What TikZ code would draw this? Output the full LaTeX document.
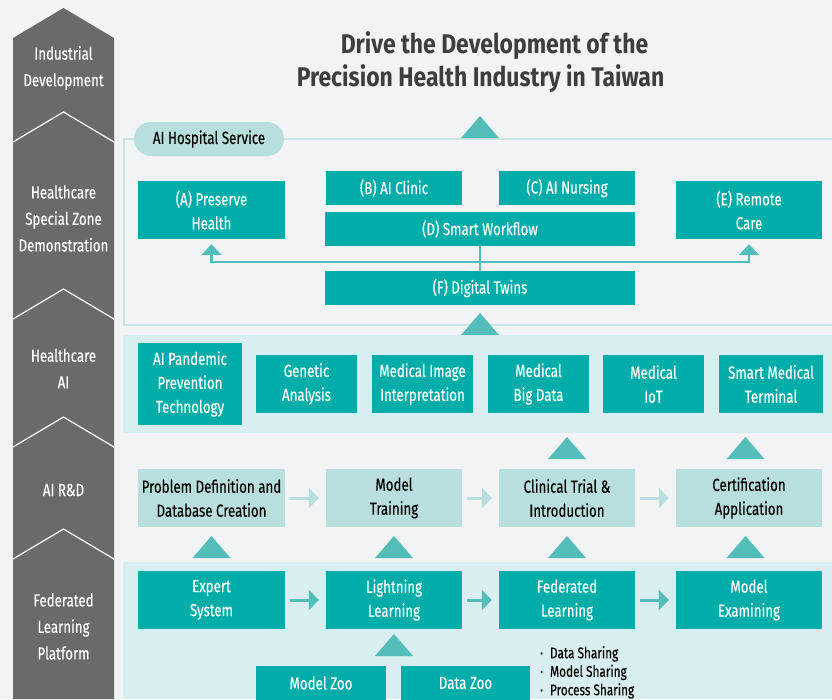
\documentclass[tikz,border=0pt]{standalone}
\usepackage{fontspec}
\setmainfont[FakeStretch=0.76,FakeBold=0.3]{Fira Sans}
\newfontfamily\titlefont[FakeStretch=0.85]{Fira Sans}
\usetikzlibrary{arrows.meta,calc}
\definecolor{teal1}{HTML}{00ADA9}
\definecolor{tealmid}{HTML}{52BDB9}
\definecolor{tealpale}{HTML}{B8DFDE}
\definecolor{bandc}{HTML}{D9EEF0}
\definecolor{bgc}{HTML}{F1F3F5}
\definecolor{colgray}{HTML}{6A6A6A}
\definecolor{framec}{HTML}{CCE5E4}
\definecolor{titlec}{HTML}{3E3E3E}
\newcommand\mytri[2]{\fill[tealmid] (#1-19,#2+22) -- (#1,#2) -- (#1+19,#2+22) -- cycle;}
\begin{document}
\begin{tikzpicture}[x=1pt,y=-1pt,
  tbox/.style={rectangle,fill=teal1,text=white,align=center,inner sep=0pt,font=\fontsize{17.5}{24}\selectfont},
  pbox/.style={rectangle,fill=tealpale,text=black,align=center,inner sep=0pt,font=\fontsize{17.5}{24}\selectfont},
  collabel/.style={text=white,align=center,font=\fontsize{17.5}{26.5}\selectfont},
  titletext/.style={text=titlec,font=\titlefont\fontsize{27}{33}\selectfont\bfseries},
  conn/.style={draw=tealmid,line width=2.5pt},
  harrow/.style={line width=3pt,-{Triangle[width=20pt,length=10pt]},shorten <=5pt,shorten >=7pt},
]
\useasboundingbox (0,0) rectangle (832,699);
\fill[bgc] (0,0) rectangle (832,699);

% left column
\fill[colgray] (13,38) -- (63.5,8) -- (114,38) -- (114,699) -- (13,699) -- cycle;
\draw[white,line width=1.2pt] (13,142) -- (63.5,112) -- (114,142);
\draw[white,line width=1.2pt] (13,319) -- (63.5,289) -- (114,319);
\draw[white,line width=1.2pt] (13,447) -- (63.5,417) -- (114,447);
\draw[white,line width=1.2pt] (13,559) -- (63.5,529) -- (114,559);
\node[collabel] (l1) at (63.5,68) {Industrial\\Development};
\node[collabel] (l2) at (63.5,218.5) {Healthcare\\Special Zone\\Demonstration};
\node[collabel] (l3) at (63.5,368.5) {Healthcare\\AI};
\node[collabel] (l4) at (63.5,490) {AI R\&D};
\node[collabel] (l5) at (63.5,626.5) {Federated\\Learning\\Platform};

% title
\node[titletext] (t1) at (494.5,46) {Drive the Development of the};
\node[titletext] (t2) at (480.5,79) {Precision Health Industry in Taiwan};

% bands
\draw[framec,line width=1.5pt] (840,139) -- (124,139) -- (124,325) -- (840,325);
\fill[bandc] (123,335) rectangle (832,433);
\fill[bandc] (123,562) rectangle (832,699);

% pill
\node[rectangle,rounded corners=17pt,fill=tealpale,text=black,inner sep=0pt,
  minimum width=150pt,minimum height=34pt,font=\fontsize{17.5}{24}\selectfont] (pill) at (209,139) {AI Hospital Service};

% hospital boxes
\node[tbox,minimum width=147pt,minimum height=58pt] (A) at (211.5,210) {(A) Preserve\\Health};
\node[tbox,minimum width=136pt,minimum height=34pt] (B) at (394,188) {(B) AI Clinic};
\node[tbox,minimum width=136pt,minimum height=34pt] (C) at (567,188) {(C) AI Nursing};
\node[tbox,minimum width=310pt,minimum height=34pt] (D) at (480,229) {(D) Smart Workflow};
\node[tbox,minimum width=146pt,minimum height=58pt] (E) at (749,210) {(E) Remote\\Care};
\node[tbox,minimum width=310pt,minimum height=34pt] (F) at (480,288) {(F) Digital Twins};

\coordinate (j) at (480,262);
\draw[conn] (D.south) -- (F.north);
\draw[conn,-{Triangle[width=20pt,length=11pt]},shorten >=5pt] (j) -| (A.south);
\draw[conn,-{Triangle[width=20pt,length=11pt]},shorten >=5pt] (j) -| (E.south);

% healthcare AI boxes
\node[tbox,minimum width=104pt,minimum height=82pt] (P) at (190,384) {AI Pandemic\\Prevention\\Technology};
\node[tbox,minimum width=101pt,minimum height=58pt] (G) at (306.5,384) {Genetic\\Analysis};
\node[tbox,minimum width=101pt,minimum height=58pt] (MI) at (422.5,384) {Medical Image\\Interpretation};
\node[tbox,minimum width=101pt,minimum height=58pt] (BD) at (538.5,384) {Medical\\Big Data};
\node[tbox,minimum width=101pt,minimum height=58pt] (IoT) at (653.5,384) {Medical\\IoT};
\node[tbox,minimum width=104pt,minimum height=58pt] (SM) at (771,384) {Smart Medical\\Terminal};

% AI R&D boxes
\node[pbox,minimum width=147pt,minimum height=58pt] (R1) at (211.5,498) {Problem Definition and\\Database Creation};
\node[pbox,minimum width=136pt,minimum height=58pt] (R2) at (394,498) {Model\\Training};
\node[pbox,minimum width=136pt,minimum height=58pt] (R3) at (567,498) {Clinical Trial \&\\Introduction};
\node[pbox,minimum width=146pt,minimum height=58pt] (R4) at (749,498) {Certification\\Application};
\draw[harrow,tealpale] (R1) -- (R2);
\draw[harrow,tealpale] (R2) -- (R3);
\draw[harrow,tealpale] (R3) -- (R4);

% federated boxes
\node[tbox,minimum width=147pt,minimum height=58pt] (F1) at (211.5,600) {Expert\\System};
\node[tbox,minimum width=136pt,minimum height=58pt] (F2) at (394,600) {Lightning\\Learning};
\node[tbox,minimum width=136pt,minimum height=58pt] (F3) at (567,600) {Federated\\Learning};
\node[tbox,minimum width=146pt,minimum height=58pt] (F4) at (749,600) {Model\\Examining};
\draw[harrow,tealmid] (F1) -- (F2);
\draw[harrow,tealmid] (F2) -- (F3);
\draw[harrow,tealmid] (F3) -- (F4);

\node[tbox,minimum width=130pt,minimum height=34pt] (MZ) at (321,683) {Model Zoo};
\node[tbox,minimum width=129pt,minimum height=34pt] (DZ) at (465.5,683) {Data Zoo};

\node[anchor=north west,align=left,inner sep=0pt,text=black,font=\fontsize{15.5}{18.5}\selectfont] (bul) at (540,646)
  {·\hspace{7pt}Data Sharing\\·\hspace{7pt}Model Sharing\\·\hspace{7pt}Process Sharing};

% triangles
\mytri{480}{116}
\mytri{480}{313}
\mytri{567}{437}
\mytri{745.5}{437}
\mytri{211.5}{536}
\mytri{394}{536}
\mytri{567}{536}
\mytri{745.5}{536}
\mytri{394}{634}
\end{tikzpicture}
\end{document}
